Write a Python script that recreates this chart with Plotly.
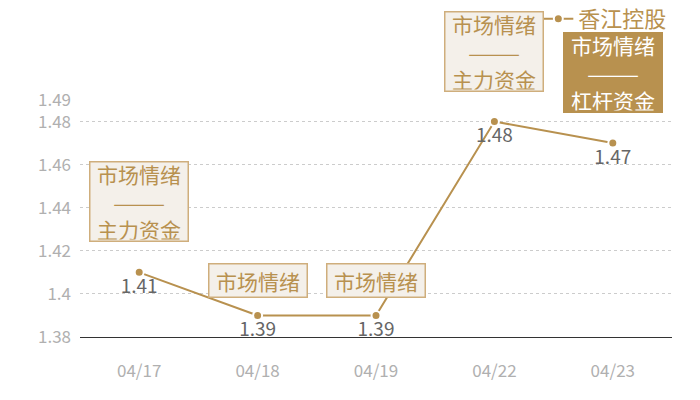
import plotly.graph_objects as go

# price series
dates = ["04/17", "04/18", "04/19", "04/22", "04/23"]
prices = [1.41, 1.39, 1.39, 1.48, 1.47]
series_name = "香江控股"

# boxed notes above each point
notes = [
    "市场情绪<br>———<br>主力资金",
    "市场情绪",
    "市场情绪",
    "市场情绪<br>———<br>主力资金",
    "市场情绪<br>———<br>杠杆资金",
]

ytick_vals = [1.38, 1.40, 1.42, 1.44, 1.46, 1.48, 1.49]
ytick_text = ["1.38", "1.4", "1.42", "1.44", "1.46", "1.48", "1.49"]

GOLD = "#b8914f"
FONT = "Noto Sans CJK SC"

fig = go.Figure()
fig.add_trace(go.Scatter(
    x=dates, y=prices, name=series_name,
    mode="lines+markers+text",
    line=dict(color=GOLD, width=2),
    marker=dict(size=9, color=GOLD, line=dict(color="white", width=2)),
    text=[f"{p:g}" for p in prices],
    textposition="bottom center",
    textfont=dict(size=19, color="#666666", family=FONT),
    showlegend=True,
))

for d, p, note in zip(dates, prices, notes):
    dark = "杠杆" in note
    multi = "<br>" in note
    fig.add_annotation(
        x=d, y=p, text=note, showarrow=False,
        yanchor="bottom", yshift=30 if multi else 17,
        width=95, height=76 if multi else 30,
        font=dict(size=21, color="white" if dark else GOLD, family=FONT),
        bgcolor=GOLD if dark else "#f4f0ea",
        bordercolor=GOLD if dark else "#cfae7c",
        borderwidth=1.5, borderpad=1,
    )

# the page body adds an 8px margin, so the figure is a little smaller than the window
fig.update_layout(
    width=692, height=392,
    margin=dict(l=72, r=28, t=92, b=63, autoexpand=False),
    plot_bgcolor="white", paper_bgcolor="white",
    font=dict(family=FONT),
    legend=dict(
        xref="container", yref="container",
        x=0.96, xanchor="right", y=0.972, yanchor="middle",
        font=dict(size=22, color=GOLD, family=FONT),
        bgcolor="rgba(0,0,0,0)", itemwidth=30,
    ),
)
fig.update_xaxes(
    type="category", range=[-0.5, len(dates) - 0.5],
    showgrid=False, showline=True, linecolor="#333333", linewidth=1,
    tickfont=dict(size=17, color="#b0b0b0"), ticklabelstandoff=19,
)
fig.update_yaxes(
    range=[1.38, 1.49], tickmode="array", tickvals=ytick_vals, ticktext=ytick_text,
    showgrid=True, gridcolor="#cccccc", griddash="dot", gridwidth=1,
    zeroline=False, showline=False,
    tickfont=dict(size=17, color="#b0b0b0"), ticklabelstandoff=8,
)

fig.write_html("out.html")
